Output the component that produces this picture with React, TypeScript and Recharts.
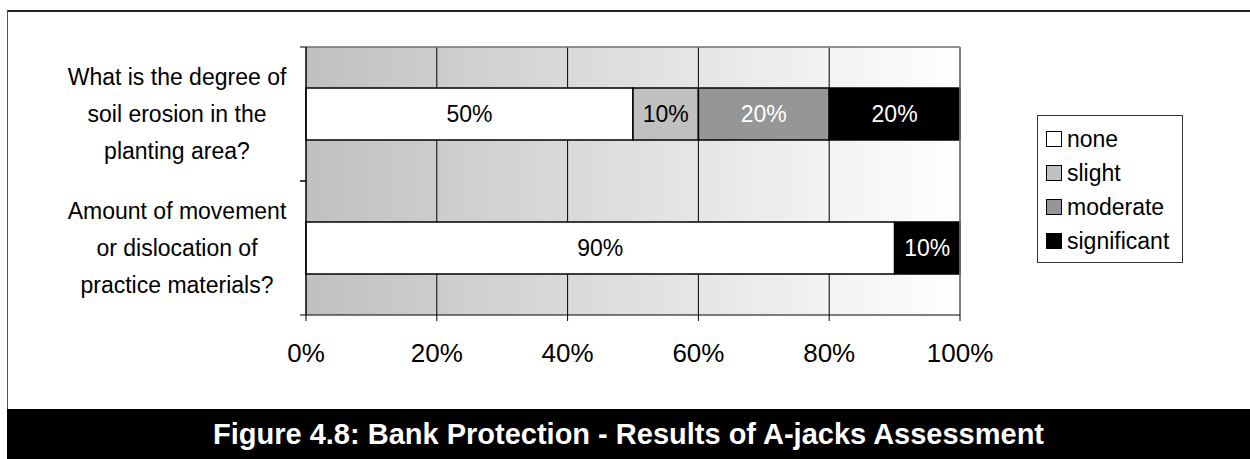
import { BarChart, Bar, XAxis, YAxis, CartesianGrid, Legend, LabelList, ReferenceLine } from "recharts";

const categoryLines = [
  ["What is the degree of", "soil erosion in the", "planting area?"],
  ["Amount of movement", "or dislocation of", "practice materials?"],
];
const categories = categoryLines.map((lines) => lines.join(" "));

const none = [50, 90];
const slight = [10, 0];
const moderate = [20, 0];
const significant = [20, 10];

const xTicks = [0, 20, 40, 60, 80, 100];

const series = [
  { key: "none", name: "none", values: none, fill: "#ffffff", text: "#000000" },
  { key: "slight", name: "slight", values: slight, fill: "#c0c0c0", text: "#000000" },
  { key: "moderate", name: "moderate", values: moderate, fill: "#969696", text: "#ffffff" },
  { key: "significant", name: "significant", values: significant, fill: "#000000", text: "#ffffff" },
];

const data = categories.map((cat, i) => {
  const row: Record<string, string | number> = { cat };
  series.forEach((s) => (row[s.key] = s.values[i]));
  return row;
});

const FONT = "'Liberation Sans', Arial, Helvetica, sans-serif";
const CHART_W = 1250;
const CHART_H = 409;

// category label: three centred lines plus tick marks on the band edges
const CategoryTick = (props: any) => {
  const { x, y, payload } = props;
  const half = payload && payload.offset ? payload.offset : 67;
  const idx = categories.indexOf(payload.value);
  const lines = categoryLines[idx] || [String(payload.value)];
  return (
    <g>
      <line x1={x - 6} x2={x} y1={y - half} y2={y - half} stroke="#000" />
      <line x1={x - 6} x2={x} y1={y + half} y2={y + half} stroke="#000" />
      <text x={x - 129} y={y} textAnchor="middle" fontSize={23} fontFamily={FONT} fill="#000">
        {lines.map((l, i) => (
          <tspan key={i} x={x - 129} y={y + (i - 1) * 37 + 8}>
            {l}
          </tspan>
        ))}
      </text>
    </g>
  );
};

const LegendBox = () => (
  <div
    style={{
      width: 146,
      height: 148,
      border: "1px solid #333",
      background: "#fff",
      paddingLeft: 8,
      paddingTop: 6,
      boxSizing: "border-box",
      fontFamily: FONT,
      fontSize: 23,
    }}
  >
    {series.map((s) => (
      <div key={s.key} style={{ display: "flex", alignItems: "center", height: 34 }}>
        <span
          style={{
            width: 14,
            height: 14,
            background: s.fill,
            border: "1.5px solid #000",
            marginRight: 5,
            display: "inline-block",
          }}
        />
        <span>{s.name}</span>
      </div>
    ))}
  </div>
);

export default function App() {
  return (
    <div style={{ position: "absolute", left: 0, top: 0, width: 1250, height: 459, background: "#fff", overflow: "hidden" }}>
      <div
        style={{
          position: "absolute",
          left: 7,
          top: 10,
          width: 1260,
          height: 399,
          borderTop: "2px solid #222",
          borderLeft: "1.5px solid #555",
          boxSizing: "border-box",
        }}
      />
      <div style={{ position: "absolute", left: 0, top: 0 }}>
        <BarChart
          width={CHART_W}
          height={CHART_H}
          data={data}
          layout="vertical"
          barSize={52}
          margin={{ top: 47, right: 290, bottom: 34, left: 0 }}
        >
          <defs>
            <linearGradient id="plotBg" x1="0" y1="0" x2="1" y2="0">
              <stop offset="0%" stopColor="#c0c0c0" />
              <stop offset="100%" stopColor="#ffffff" />
            </linearGradient>
          </defs>
          <CartesianGrid
            fill="url(#plotBg)"
            horizontal={false}
            stroke="#000"
            strokeOpacity={1}
          />
          <CartesianGrid
            vertical={false}
            horizontalCoordinatesGenerator={({ offset }: any) => [offset.top]}
            stroke="#707070"
            strokeWidth={1.5}
          />
          <XAxis
            type="number"
            domain={[0, 100]}
            ticks={xTicks}
            tickFormatter={(v) => `${v}%`}
            axisLine={{ stroke: "#000" }}
            tickLine={{ stroke: "#000" }}
            tickSize={6}
            tickMargin={23}
            height={60}
            interval={0}
            tick={{ fontSize: 26, fill: "#000", fontFamily: FONT }}
          />
          <YAxis
            type="category"
            dataKey="cat"
            width={306}
            axisLine={{ stroke: "#000" }}
            tickLine={false}
            tickSize={0}
            tickMargin={0}
            interval={0}
            tick={<CategoryTick />}
          />
          <ReferenceLine x={100} stroke="#808080" strokeWidth={1.5} />
          {series.map((s) => (
            <Bar
              key={s.key}
              dataKey={s.key}
              name={s.name}
              stackId="a"
              fill={s.fill}
              stroke="#000"
              strokeWidth={1.5}
              isAnimationActive={false}
            >
              <LabelList
                dataKey={s.key}
                position="center"
                formatter={(v: any) => (v ? `${v}%` : "")}
                fill={s.text}
                fontSize={23}
                fontFamily={FONT}
              />
            </Bar>
          ))}
          <Legend
            layout="vertical"
            align="center"
            verticalAlign="middle"
            content={<LegendBox />}
            wrapperStyle={{ left: 1037, top: 115, width: 146, height: 148 }}
          />
        </BarChart>
      </div>
      <div
        style={{
          position: "absolute",
          left: 7,
          top: 409,
          width: 1243,
          height: 50,
          background: "#000",
          color: "#fff",
          fontFamily: FONT,
          fontWeight: "bold",
          fontSize: 29,
          lineHeight: "50px",
          textAlign: "center",
        }}
      >
        Figure 4.8: Bank Protection - Results of A-jacks Assessment
      </div>
    </div>
  );
}
